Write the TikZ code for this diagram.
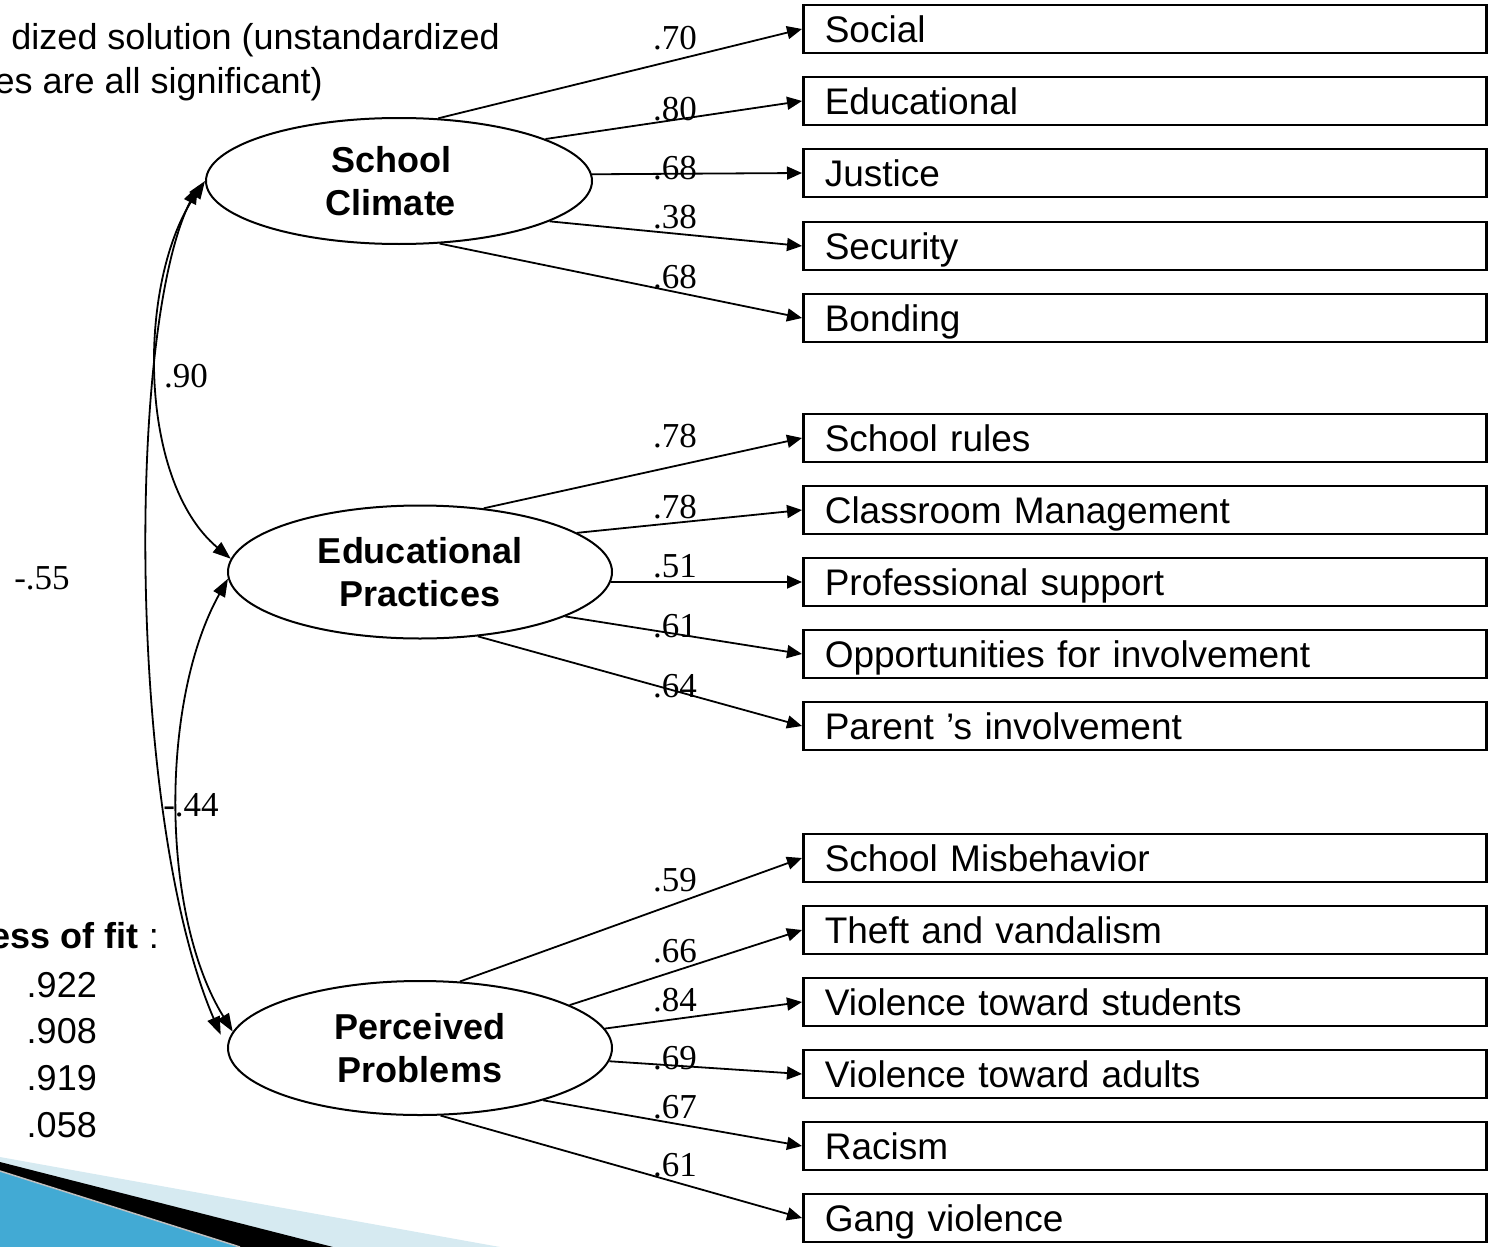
\documentclass[tikz,border=0pt]{standalone}
\usepackage{fontspec}
\setmainfont{Liberation Sans}
\newfontfamily\tnr{Liberation Serif}
\usetikzlibrary{shapes.geometric,arrows.meta,calc}
\definecolor{lightband}{HTML}{D6EAF1}
\definecolor{bluefill}{HTML}{42AAD4}
\begin{document}
\begin{tikzpicture}[x=1pt,y=-1pt,
  latent/.style={ellipse,draw,line width=2pt,inner sep=0pt,align=center,font=\fontsize{36}{43}\selectfont\bfseries},
  indbox/.style={draw,line width=2.6pt,anchor=west,text width=640pt,align=left,inner xsep=21.5pt,inner ysep=6.5pt,text height=31pt,text depth=4pt,font=\fontsize{37}{44}\selectfont},
  load/.style={line width=1.8pt,-{Triangle[length=15pt,width=13pt]}},
  cov/.style={line width=1.8pt,{Triangle[length=18pt,width=13pt]}-{Triangle[length=18pt,width=13pt]}},
  coef/.style={font=\tnr\fontsize{35}{40}\selectfont,inner sep=0pt},
  plain/.style={font=\fontsize{36}{43}\selectfont,inner sep=0pt}
]
\useasboundingbox (0,0) rectangle (1489,1247);

% decoration bottom-left
\fill[lightband] (0,1157) -- (500,1247) -- (0,1247) -- cycle;
\fill[black] (0,1162) -- (333,1247) -- (0,1247) -- cycle;
\fill[bluefill] (0,1171) -- (240,1247) -- (0,1247) -- cycle;
\draw[gray!50,line width=1.5pt] (0,1171) -- (240,1247);

% texts on the left
\node[plain,anchor=base east] (t1) at (500,50) {dized solution (unstandardized};
\node[plain,anchor=base east] (t2) at (323,93) {es are all significant)};
\node[plain,anchor=base east] (fit) at (159,948) {\textbf{ess of fit} :};
\node[plain,anchor=base east] (n1) at (97,997) {.922};
\node[plain,anchor=base east] (n2) at (97,1043) {.908};
\node[plain,anchor=base east] (n3) at (97,1090) {.919};
\node[plain,anchor=base east] (n4) at (97,1137) {.058};

% latent variables
\node[latent,minimum width=386pt,minimum height=126pt] (sc) at (399,181) {\hspace*{-16pt}School\\\hspace*{-16pt}Climate};
\node[latent,minimum width=384pt,minimum height=133pt] (ep) at (420,572) {Educational\\Practices};
\node[latent,minimum width=384pt,minimum height=134pt] (pp) at (420,1048) {Perceived\\Problems};

% indicator boxes
\node[indbox] (b1) at (802,29) {Social};
\node[indbox] (b2) at (802,101) {Educational};
\node[indbox] (b3) at (802,173) {Justice};
\node[indbox] (b4) at (802,246) {Security};
\node[indbox] (b5) at (802,318) {Bonding};

\node[indbox] (c1) at (802,438) {School rules};
\node[indbox] (c2) at (802,510) {Classroom Management};
\node[indbox] (c3) at (802,582) {Professional support};
\node[indbox] (c4) at (802,654) {Opportunities for involvement};
\node[indbox] (c5) at (802,726) {Parent 's involvement};

\node[indbox] (d1) at (802,858) {School Misbehavior};
\node[indbox] (d2) at (802,930) {Theft and vandalism};
\node[indbox] (d3) at (802,1002) {Violence toward students};
\node[indbox] (d4) at (802,1074) {Violence toward adults};
\node[indbox] (d5) at (802,1146) {Racism};
\node[indbox] (d6) at (802,1218) {Gang violence};

% loadings
\draw[load] (sc.58.5) -- (b1.west);
\draw[load] (sc.16.2) -- (b2.west);
\draw[load] (sc.2.5) -- (b3.west);
\draw[load] (sc.-15.4) -- (b4.west);
\draw[load] (sc.-57.8) -- (b5.west);

\draw[load] (ep.45) -- (c1.west);
\draw[load] (ep.14.6) -- (c2.west);
\draw[load] (ep.-3) -- (c3.west);
\draw[load] (ep.-17.7) -- (c4.west);
\draw[load] (ep.-48) -- (c5.west);

\draw[load] (pp.59) -- (d1.west);
\draw[load] (pp.16) -- (d2.west);
\draw[load] (pp.6.5) -- (d3.west);
\draw[load] (pp.-4.2) -- (d4.west);
\draw[load] (pp.-23.4) -- (d5.west);
\draw[load] (pp.-73) -- (d6.west);

% coefficient labels
\node[coef] (l1) at (675,38.5) {.70};
\node[coef] (l2) at (675,109.5) {.80};
\node[coef] (l3) at (675,168.5) {.68};
\node[coef] (l4) at (675,217.5) {.38};
\node[coef] (l5) at (675,277.5) {.68};
\node[coef] (l6) at (675,436) {.78};
\node[coef] (l7) at (675,507) {.78};
\node[coef] (l8) at (675,566) {.51};
\node[coef] (l9) at (675,626) {.61};
\node[coef] (l10) at (675,686) {.64};
\node[coef] (l11) at (675,880) {.59};
\node[coef] (l12) at (675,951) {.66};
\node[coef] (l13) at (675,1000) {.84};
\node[coef] (l14) at (675,1058) {.69};
\node[coef] (l15) at (675,1107) {.67};
\node[coef] (l16) at (675,1165) {.61};

% covariances
\draw[cov] (sc.west) .. controls (137,280) and (137,480) .. (ep.176);
\draw[cov] ($(sc.west)+(-7,5)$) .. controls (126,330) and (128,820) .. ($(pp.176)+(-10,0)$);
\draw[cov] (ep.182) .. controls (160,700) and (160,914) .. (pp.175);

\node[coef] (r1) at (186,376) {.90};
\node[coef] (r2) at (191,805) {-.44};
\node[coef] (r3) at (42,578) {-.55};
\end{tikzpicture}
\end{document}
